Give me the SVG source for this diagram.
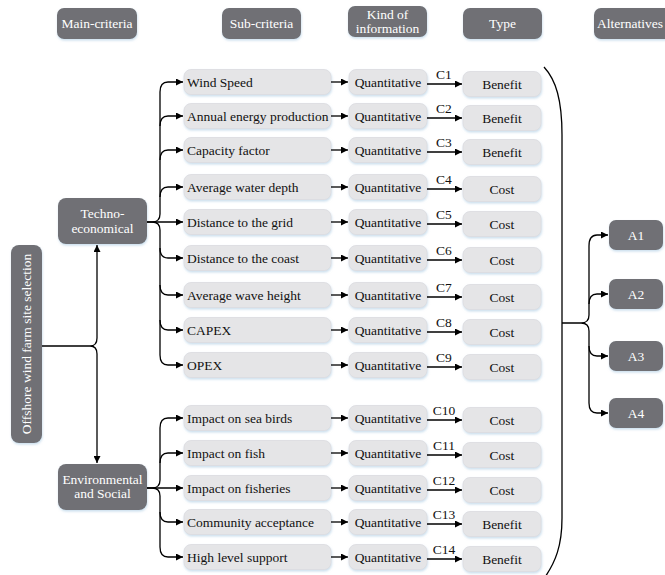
<svg xmlns="http://www.w3.org/2000/svg" width="665" height="575" viewBox="0 0 665 575" font-family="'Liberation Serif', 'Times New Roman', 'DejaVu Serif', serif">
<defs>
<filter id="sh" x="-10%" y="-20%" width="120%" height="150%"><feDropShadow dx="0.5" dy="1.5" stdDeviation="1" flood-color="#9fc3de" flood-opacity="0.55"/></filter>
<marker id="ah" markerWidth="7" markerHeight="7" refX="7" refY="3.5" orient="auto" markerUnits="userSpaceOnUse"><path d="M0,0 L7,3.5 L0,7 z" fill="#000"/></marker>
</defs>
<style>
.dk{fill:#707074;filter:url(#sh)}
.lt{fill:#e5e5e7;stroke:#dcdcdf;stroke-width:0.8;filter:url(#sh)}
.wt{font-family:'Liberation Serif','Times New Roman',serif;font-size:13.5px;fill:#fff;text-anchor:middle}
.bt{font-family:'Liberation Serif','Times New Roman',serif;font-size:13.5px;fill:#111}
.c{text-anchor:middle}
.ln{fill:none;stroke:#000;stroke-width:1.3}
.ar{fill:none;stroke:#000;stroke-width:1.3;marker-end:url(#ah)}
</style>
<g id="headers">
<g id="h-main"><rect class="dk" x="57" y="8" width="80" height="31" rx="7"/><text class="wt" x="97" y="28">Main-criteria</text></g>
<g id="h-sub"><rect class="dk" x="222" y="8" width="79" height="31" rx="7"/><text class="wt" x="261.5" y="28">Sub-criteria</text></g>
<g id="h-kind"><rect class="dk" x="348" y="6" width="79" height="31" rx="7"/><text class="wt" x="387.5" y="19">Kind of</text><text class="wt" x="387.5" y="33">information</text></g>
<g id="h-type"><rect class="dk" x="463" y="8" width="79" height="31" rx="7"/><text class="wt" x="502.5" y="28">Type</text></g>
<g id="h-alt"><rect class="dk" x="594" y="8" width="80" height="31" rx="7"/><text class="wt" x="630" y="28">Alternatives</text></g>
</g>
<g id="root"><rect class="dk" x="11" y="245" width="31" height="198" rx="8"/><text class="wt" transform="translate(31,344) rotate(-90)">Offshore wind farm site selection</text></g>
<g id="techno"><rect class="dk" x="58" y="198" width="89" height="46" rx="8"/><text class="wt" x="102.5" y="218">Techno-</text><text class="wt" x="102.5" y="233">economical</text></g>
<g id="env"><rect class="dk" x="58" y="464" width="89" height="46" rx="8"/><text class="wt" x="102.5" y="484">Environmental</text><text class="wt" x="102.5" y="498">and Social</text></g>
<g id="rows">
<g id="r1"><rect class="lt" x="184" y="69.5" width="147" height="25" rx="7"/><text class="bt" x="187" y="86.5">Wind Speed</text><rect class="lt" x="349" y="69.5" width="78" height="25" rx="7"/><text class="bt c" x="388" y="86.5">Quantitative</text><rect class="lt" x="463" y="71.5" width="78" height="25" rx="7"/><text class="bt c" x="502" y="88.5">Benefit</text><text class="bt c" x="444" y="79">C1</text></g>
<g id="r2"><rect class="lt" x="184" y="103.5" width="147" height="25" rx="7"/><text class="bt" x="187" y="120.5">Annual energy production</text><rect class="lt" x="349" y="103.5" width="78" height="25" rx="7"/><text class="bt c" x="388" y="120.5">Quantitative</text><rect class="lt" x="463" y="105.5" width="78" height="25" rx="7"/><text class="bt c" x="502" y="122.5">Benefit</text><text class="bt c" x="444" y="113">C2</text></g>
<g id="r3"><rect class="lt" x="184" y="137.5" width="147" height="25" rx="7"/><text class="bt" x="187" y="154.5">Capacity factor</text><rect class="lt" x="349" y="137.5" width="78" height="25" rx="7"/><text class="bt c" x="388" y="154.5">Quantitative</text><rect class="lt" x="463" y="139.5" width="78" height="25" rx="7"/><text class="bt c" x="502" y="156.5">Benefit</text><text class="bt c" x="444" y="147">C3</text></g>
<g id="r4"><rect class="lt" x="184" y="174.5" width="147" height="25" rx="7"/><text class="bt" x="187" y="191.5">Average water depth</text><rect class="lt" x="349" y="174.5" width="78" height="25" rx="7"/><text class="bt c" x="388" y="191.5">Quantitative</text><rect class="lt" x="463" y="176.5" width="78" height="25" rx="7"/><text class="bt c" x="502" y="193.5">Cost</text><text class="bt c" x="444" y="184">C4</text></g>
<g id="r5"><rect class="lt" x="184" y="209.5" width="147" height="25" rx="7"/><text class="bt" x="187" y="226.5">Distance to the grid</text><rect class="lt" x="349" y="209.5" width="78" height="25" rx="7"/><text class="bt c" x="388" y="226.5">Quantitative</text><rect class="lt" x="463" y="211.5" width="78" height="25" rx="7"/><text class="bt c" x="502" y="228.5">Cost</text><text class="bt c" x="444" y="219">C5</text></g>
<g id="r6"><rect class="lt" x="184" y="245.5" width="147" height="25" rx="7"/><text class="bt" x="187" y="262.5">Distance to the coast</text><rect class="lt" x="349" y="245.5" width="78" height="25" rx="7"/><text class="bt c" x="388" y="262.5">Quantitative</text><rect class="lt" x="463" y="247.5" width="78" height="25" rx="7"/><text class="bt c" x="502" y="264.5">Cost</text><text class="bt c" x="444" y="255">C6</text></g>
<g id="r7"><rect class="lt" x="184" y="282.5" width="147" height="25" rx="7"/><text class="bt" x="187" y="299.5">Average wave height</text><rect class="lt" x="349" y="282.5" width="78" height="25" rx="7"/><text class="bt c" x="388" y="299.5">Quantitative</text><rect class="lt" x="463" y="284.5" width="78" height="25" rx="7"/><text class="bt c" x="502" y="301.5">Cost</text><text class="bt c" x="444" y="292">C7</text></g>
<g id="r8"><rect class="lt" x="184" y="317.5" width="147" height="25" rx="7"/><text class="bt" x="187" y="334.5">CAPEX</text><rect class="lt" x="349" y="317.5" width="78" height="25" rx="7"/><text class="bt c" x="388" y="334.5">Quantitative</text><rect class="lt" x="463" y="319.5" width="78" height="25" rx="7"/><text class="bt c" x="502" y="336.5">Cost</text><text class="bt c" x="444" y="327">C8</text></g>
<g id="r9"><rect class="lt" x="184" y="352.5" width="147" height="25" rx="7"/><text class="bt" x="187" y="369.5">OPEX</text><rect class="lt" x="349" y="352.5" width="78" height="25" rx="7"/><text class="bt c" x="388" y="369.5">Quantitative</text><rect class="lt" x="463" y="354.5" width="78" height="25" rx="7"/><text class="bt c" x="502" y="371.5">Cost</text><text class="bt c" x="444" y="362">C9</text></g>
<g id="r10"><rect class="lt" x="184" y="405.5" width="147" height="25" rx="7"/><text class="bt" x="187" y="422.5">Impact on sea birds</text><rect class="lt" x="349" y="405.5" width="78" height="25" rx="7"/><text class="bt c" x="388" y="422.5">Quantitative</text><rect class="lt" x="463" y="407.5" width="78" height="25" rx="7"/><text class="bt c" x="502" y="424.5">Cost</text><text class="bt c" x="444" y="415">C10</text></g>
<g id="r11"><rect class="lt" x="184" y="440.5" width="147" height="25" rx="7"/><text class="bt" x="187" y="457.5">Impact on fish</text><rect class="lt" x="349" y="440.5" width="78" height="25" rx="7"/><text class="bt c" x="388" y="457.5">Quantitative</text><rect class="lt" x="463" y="442.5" width="78" height="25" rx="7"/><text class="bt c" x="502" y="459.5">Cost</text><text class="bt c" x="444" y="450">C11</text></g>
<g id="r12"><rect class="lt" x="184" y="475.5" width="147" height="25" rx="7"/><text class="bt" x="187" y="492.5">Impact on fisheries</text><rect class="lt" x="349" y="475.5" width="78" height="25" rx="7"/><text class="bt c" x="388" y="492.5">Quantitative</text><rect class="lt" x="463" y="477.5" width="78" height="25" rx="7"/><text class="bt c" x="502" y="494.5">Cost</text><text class="bt c" x="444" y="485">C12</text></g>
<g id="r13"><rect class="lt" x="184" y="509.5" width="147" height="25" rx="7"/><text class="bt" x="187" y="526.5">Community acceptance</text><rect class="lt" x="349" y="509.5" width="78" height="25" rx="7"/><text class="bt c" x="388" y="526.5">Quantitative</text><rect class="lt" x="463" y="511.5" width="78" height="25" rx="7"/><text class="bt c" x="502" y="528.5">Benefit</text><text class="bt c" x="444" y="519">C13</text></g>
<g id="r14"><rect class="lt" x="184" y="544.5" width="147" height="25" rx="7"/><text class="bt" x="187" y="561.5">High level support</text><rect class="lt" x="349" y="544.5" width="78" height="25" rx="7"/><text class="bt c" x="388" y="561.5">Quantitative</text><rect class="lt" x="463" y="546.5" width="78" height="25" rx="7"/><text class="bt c" x="502" y="563.5">Benefit</text><text class="bt c" x="444" y="554">C14</text></g>
</g>
<g id="alts">
<g id="a1"><rect class="dk" x="609" y="220" width="54" height="30" rx="7"/><text class="wt" x="636" y="239.5">A1</text></g>
<g id="a2"><rect class="dk" x="609" y="279" width="54" height="30" rx="7"/><text class="wt" x="636" y="298.5">A2</text></g>
<g id="a3"><rect class="dk" x="609" y="341" width="54" height="30" rx="7"/><text class="wt" x="636" y="360.5">A3</text></g>
<g id="a4"><rect class="dk" x="609" y="398" width="54" height="30" rx="7"/><text class="wt" x="636" y="417.5">A4</text></g>
</g>
<g id="connectors">
<path class="ln" d="M42,346 H90 Q97,346 97,338 M90,346 Q97,346 97,354"/>
<path class="ar" d="M97,338 V245"/>
<path class="ar" d="M97,354 V463"/>
<path class="ln" d="M147,222 H152 Q160,222 160,214 V92 M152,222 Q160,222 160,230 V355"/>
<path class="ar" d="M147,222 H183"/>
<path class="ar" d="M160,92 Q160,82 168,82 H183"/>
<path class="ar" d="M160,126 Q160,116 168,116 H183"/>
<path class="ar" d="M160,160 Q160,150 168,150 H183"/>
<path class="ar" d="M160,197 Q160,187 168,187 H183"/>
<path class="ar" d="M160,248 Q160,258 168,258 H183"/>
<path class="ar" d="M160,285 Q160,295 168,295 H183"/>
<path class="ar" d="M160,320 Q160,330 168,330 H183"/>
<path class="ar" d="M160,355 Q160,365 168,365 H183"/>
<path class="ln" d="M147,488 H152 Q160,488 160,480 V428 M152,488 Q160,488 160,496 V547"/>
<path class="ar" d="M147,488 H183"/>
<path class="ar" d="M160,428 Q160,418 168,418 H183"/>
<path class="ar" d="M160,463 Q160,453 168,453 H183"/>
<path class="ar" d="M160,512 Q160,522 168,522 H183"/>
<path class="ar" d="M160,547 Q160,557 168,557 H183"/>
<path class="ar" d="M331,82 H348"/><path class="ar" d="M331,116 H348"/><path class="ar" d="M331,150 H348"/><path class="ar" d="M331,187 H348"/><path class="ar" d="M331,222 H348"/><path class="ar" d="M331,258 H348"/><path class="ar" d="M331,295 H348"/><path class="ar" d="M331,330 H348"/><path class="ar" d="M331,365 H348"/><path class="ar" d="M331,418 H348"/><path class="ar" d="M331,453 H348"/><path class="ar" d="M331,488 H348"/><path class="ar" d="M331,522 H348"/><path class="ar" d="M331,557 H348"/>
<path class="ar" d="M427,84 H462"/><path class="ar" d="M427,118 H462"/><path class="ar" d="M427,152 H462"/><path class="ar" d="M427,189 H462"/><path class="ar" d="M427,224 H462"/><path class="ar" d="M427,260 H462"/><path class="ar" d="M427,297 H462"/><path class="ar" d="M427,332 H462"/><path class="ar" d="M427,367 H462"/><path class="ar" d="M427,420 H462"/><path class="ar" d="M427,455 H462"/><path class="ar" d="M427,490 H462"/><path class="ar" d="M427,524 H462"/><path class="ar" d="M427,559 H462"/>
<path class="ln" d="M544,67 C556,80 562,100 562,135 V518 C562,545 556,562 543,580"/>
<path class="ln" d="M562,323 H581 Q589,323 589,315 V246 M581,323 Q589,323 589,331 V403"/>
<path class="ar" d="M589,246 Q589,235 597,235 H608"/>
<path class="ar" d="M589,304 Q589,294 597,294 H608"/>
<path class="ar" d="M589,346 Q589,356 597,356 H608"/>
<path class="ar" d="M589,403 Q589,413 597,413 H608"/>
</g>
</svg>
